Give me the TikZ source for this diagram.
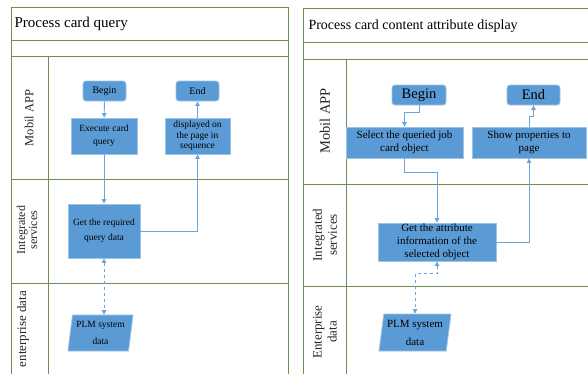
\documentclass[tikz,border=0pt]{standalone}
\usepackage{fontspec}
\setmainfont{Liberation Serif}
\usetikzlibrary{arrows.meta,shapes.geometric}

\definecolor{laneg}{RGB}{112,142,84}
\definecolor{boxb}{RGB}{91,155,213}
\definecolor{boxe}{RGB}{157,195,230}
\definecolor{flowb}{RGB}{108,165,218}

\tikzset{
  lane/.style={draw=laneg,line width=1pt},
  term/.style={rectangle,rounded corners=3pt,fill=boxb,draw=boxe,line width=0.8pt,inner sep=1pt,align=center},
  proc/.style={rectangle,fill=boxb,draw=boxe,line width=0.8pt,inner sep=1pt,align=center},
  datab/.style={trapezium,trapezium left angle=80,trapezium right angle=100,trapezium stretches body,fill=boxb,draw=boxe,line width=0.8pt,inner sep=1pt,align=center},
  flow/.style={draw=flowb,line width=0.9pt,-{Triangle[length=4.5pt,width=4.5pt]}},
  dflow/.style={flow,dashed,{Triangle[length=4.5pt,width=4.5pt]}-{Triangle[length=4.5pt,width=4.5pt]}},
  lanetxt/.style={rotate=90,align=center,text=black!85}
}
\newcommand{\fsz}[2]{\fontsize{#1}{#2}\selectfont}

\begin{document}
\begin{tikzpicture}[x=1pt,y=-1pt]
\useasboundingbox (0,0) rectangle (588,373);
\clip (0,0) rectangle (588,373);

% left pool
\draw[lane] (11,7) rectangle (288,390);
\draw[lane] (11,40) -- (288,40);
\draw[lane] (11,56) -- (288,56);
\draw[lane] (11,179) -- (288,179);
\draw[lane] (11,283) -- (288,283);
\draw[lane] (48,56) -- (48,390);

\node[anchor=west,font=\fsz{15}{17}] (t1) at (11,24) {Process card query};
\node[lanetxt,font=\fsz{12.5}{14}] (l1a) at (29,118) {Mobil APP};
\node[lanetxt,font=\fsz{12}{12}] (l1b) at (27,230) {Integrated\\services};
\node[lanetxt,font=\fsz{13}{14}] (l1c) at (23,329) {enterprise data};

\node[term,minimum width=43pt,minimum height=20pt,font=\fsz{10}{11}] (begin1) at (104.5,91) {Begin};
\node[term,minimum width=43pt,minimum height=20pt,font=\fsz{10}{11}] (end1) at (197.5,91) {End};
\node[proc,minimum width=66pt,minimum height=36pt,font=\fsz{9.5}{13}] (exec1) at (104,136) {Execute card\\query};
\node[proc,minimum width=65pt,minimum height=36pt,font=\fsz{9.5}{10.5}] (disp1) at (197.5,136) {displayed on\\the page in\\sequence};
\node[proc,minimum width=72pt,minimum height=54pt,font=\fsz{9.5}{15}] (get1) at (104,231) {Get the required\\query data};
\node[datab,minimum width=65pt,minimum height=36pt,font=\fsz{9.5}{17}] (plm1) at (100.5,333) {PLM system\\data};

\draw[flow] (begin1) -- (exec1);
\draw[flow] (exec1) -- (get1);
\draw[flow] (get1.east) -| (disp1.south);
\draw[flow] (disp1) -- (end1);
\draw[dflow] (get1.south) -- (get1.south |- plm1.north);

% right pool
\draw[lane] (303,8) rectangle (600,390);
\draw[lane] (303,42) -- (600,42);
\draw[lane] (303,59) -- (600,59);
\draw[lane] (303,184) -- (600,184);
\draw[lane] (303,286) -- (600,286);
\draw[lane] (346,59) -- (346,390);

\node[anchor=west,font=\fsz{14}{16}] (t2) at (305,26) {Process card content attribute display};
\node[lanetxt,font=\fsz{14.5}{16}] (l2a) at (325,121) {Mobil APP};
\node[lanetxt,font=\fsz{13}{15}] (l2b) at (325,235) {Integrated\\services};
\node[lanetxt,font=\fsz{13}{15}] (l2c) at (325,332) {Enterprise\\data};

\node[term,minimum width=54pt,minimum height=20pt,font=\fsz{14.5}{16}] (begin2) at (419,95) {Begin};
\node[term,minimum width=53pt,minimum height=20pt,font=\fsz{14.5}{16}] (end2) at (533.5,95) {End};
\node[proc,minimum width=117pt,minimum height=31pt,font=\fsz{11}{13}] (sel2) at (404.5,142.5) {Select the queried job\\card object};
\node[proc,minimum width=114pt,minimum height=31pt,font=\fsz{11}{13}] (show2) at (529,142.5) {Show properties to\\page};
\node[proc,minimum width=118pt,minimum height=38pt,font=\fsz{11}{13}] (get2) at (437,242) {Get the attribute\\information of the\\selected object};
\node[datab,minimum width=72pt,minimum height=37pt,font=\fsz{11}{18}] (plm2) at (415,332.5) {PLM system\\data};

\draw[flow] (begin2.south) -- ++(0,7) -| (sel2.north);
\draw[flow] (sel2.south) -- ++(0,14) -| (get2.north);
\draw[flow] (get2.east) -| (show2.south);
\draw[flow] (show2.north) -- ++(0,-10) -| (end2.south);
\draw[dflow] (get2.south) -- ++(0,12) -| (plm2.north);
\end{tikzpicture}
\end{document}
